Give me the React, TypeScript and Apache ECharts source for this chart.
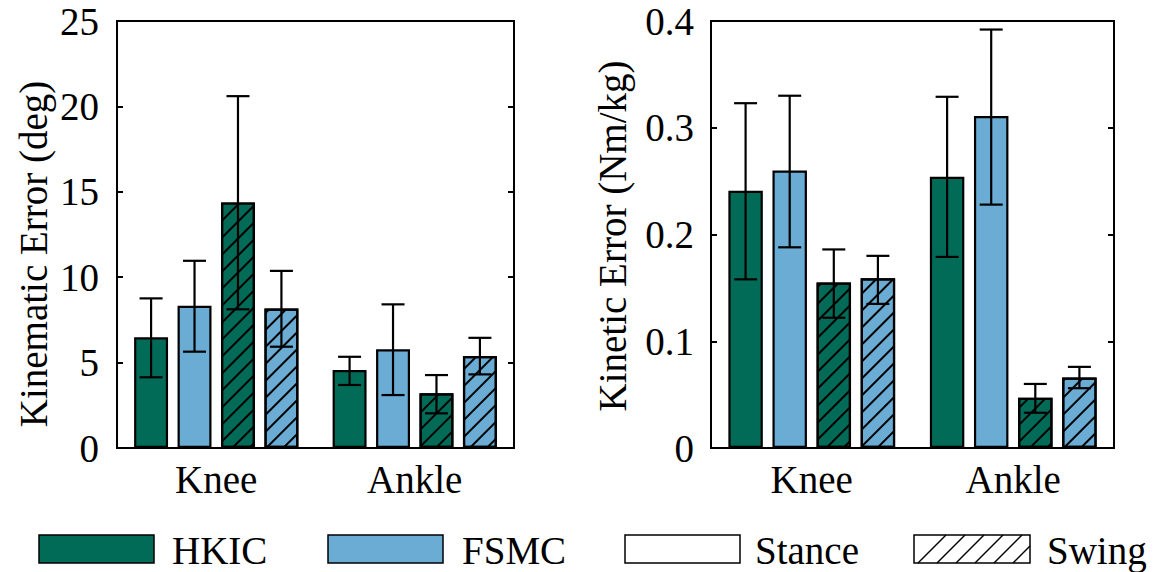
import React, { useEffect, useRef } from "react";
import * as echarts from "echarts";

const categories = ["Knee", "Ankle"];
const seriesNames = ["HKIC Stance", "FSMC Stance", "HKIC Swing", "FSMC Swing"];

// Kinematic error (deg)
const kinHKICStance = [6.48, 4.56];
const kinFSMCStance = [8.33, 5.78];
const kinHKICSwing = [14.38, 3.2];
const kinFSMCSwing = [8.17, 5.38];
const kinLow = [[4.14, 3.69], [5.64, 3.1], [8.12, 2.03], [5.93, 4.31]];
const kinHigh = [[8.76, 5.34], [10.96, 8.41], [20.6, 4.27], [10.37, 6.45]];

// Kinetic error (Nm/kg)
const ktHKICStance = [0.241, 0.254];
const ktFSMCStance = [0.26, 0.311];
const ktHKICSwing = [0.155, 0.047];
const ktFSMCSwing = [0.159, 0.066];
const ktLow = [[0.158, 0.179], [0.188, 0.228], [0.122, 0.033], [0.135, 0.056]];
const ktHigh = [[0.323, 0.329], [0.33, 0.392], [0.186, 0.06], [0.18, 0.076]];

const kinTicks = { min: 0, max: 25, interval: 5 };
const ktTicks = { min: 0, max: 0.4, interval: 0.1 };

const legendItems = ["HKIC", "FSMC", "Stance", "Swing"];

const GREEN = "#016B57";
const BLUE = "#6AACD4";
const FONT = "Liberation Serif, Times New Roman, serif";
const FS = 39;
const BAR_W = 0.171;
const BAR_GAP = 0.28;

const hatch = {
  color: "#000",
  dashArrayX: [1, 0],
  dashArrayY: [2, 10],
  symbolSize: 1,
  rotation: -Math.PI / 4,
};

function barSeries(gridIdx: number, data: number[][]) {
  const colors = [GREEN, BLUE, GREEN, BLUE];
  return data.map((d, i) => ({
    type: "bar",
    name: seriesNames[i],
    xAxisIndex: gridIdx,
    yAxisIndex: gridIdx * 2,
    data: d,
    barWidth: BAR_W * 100 + "%",
    barGap: BAR_GAP * 100 + "%",
    itemStyle: {
      color: colors[i],
      borderColor: "#000",
      borderWidth: 2.2,
      decal: i >= 2 ? hatch : undefined,
    },
    z: 2,
  }));
}

function errSeries(gridIdx: number, lows: number[][], highs: number[][]) {
  const data: number[][] = [];
  lows.forEach((arr, s) =>
    arr.forEach((lo, c) => data.push([c, lo, highs[s][c], s]))
  );
  return {
    type: "custom",
    xAxisIndex: gridIdx,
    yAxisIndex: gridIdx * 2,
    z: 5,
    encode: { x: 0, y: [1, 2] },
    data,
    renderItem: (_p: any, api: any) => {
      const c = api.value(0);
      const lo = api.value(1);
      const hi = api.value(2);
      const s = api.value(3);
      const catW = api.size([1, 0])[0];
      const pitch = catW * BAR_W * (1 + BAR_GAP);
      const pLo = api.coord([c, lo]);
      const pHi = api.coord([c, hi]);
      const x = pLo[0] + (s - 1.5) * pitch;
      const cap = 11.5;
      const st = { stroke: "#000", lineWidth: 2.2 };
      return {
        type: "group",
        children: [
          { type: "line", shape: { x1: x, y1: pLo[1], x2: x, y2: pHi[1] }, style: st },
          { type: "line", shape: { x1: x - cap, y1: pLo[1], x2: x + cap, y2: pLo[1] }, style: st },
          { type: "line", shape: { x1: x - cap, y1: pHi[1], x2: x + cap, y2: pHi[1] }, style: st },
        ],
      };
    },
  };
}

function textStyle(text: string, align: string) {
  return {
    text,
    fontFamily: FONT,
    fontSize: FS,
    fill: "#000",
    textAlign: align,
    textVerticalAlign: "middle",
  };
}

function legendGraphic() {
  const boxes = [
    { x: 39, w: 115, fill: GREEN, tx: 172 },
    { x: 328, w: 115, fill: BLUE, tx: 462 },
    { x: 625, w: 115, fill: "#fff", tx: 755 },
    { x: 914, w: 116, fill: "#fff", tx: 1047 },
  ];
  const y0 = 535;
  const h = 28;
  const els: any[] = [];
  boxes.forEach((b, i) => {
    els.push({
      type: "rect",
      shape: { x: b.x, y: y0, width: b.w, height: h },
      style: { fill: b.fill, stroke: "#000", lineWidth: 1.5 },
    });
    els.push({
      type: "text",
      x: b.tx,
      y: y0 + h / 2 + 1,
      style: textStyle(legendItems[i], "left"),
    });
  });
  // hatch lines inside swing box
  const b = boxes[3];
  const x0 = b.x, x1 = b.x + b.w, y1 = y0 + h;
  for (let k = 0; k < 8; k++) {
    const c = x0 + y1 + 4 + k * 19;
    let ax = c - y1, ay = y1;
    let bx = c - y0, by = y0;
    if (ax < x0) { ay = c - x0; ax = x0; }
    if (bx > x1) { by = c - x1; bx = x1; }
    if (ax >= x1 || bx <= x0) continue;
    els.push({
      type: "line",
      shape: { x1: ax, y1: ay, x2: bx, y2: by },
      style: { stroke: "#000", lineWidth: 1.5 },
    });
  }
  els.push({
    type: "text",
    x: 33,
    y: 254,
    rotation: Math.PI / 2,
    style: textStyle("Kinematic Error (deg)", "center"),
  });
  els.push({
    type: "text",
    x: 612,
    y: 236,
    rotation: Math.PI / 2,
    style: textStyle("Kinetic Error (Nm/kg)", "center"),
  });
  return els;
}

function yAxes(gridIdx: number, t: { min: number; max: number; interval: number }, margin: number) {
  const tick = { show: true, inside: true, length: 6, lineStyle: { color: "#000", width: 2 } };
  return [
    {
      type: "value",
      gridIndex: gridIdx,
      position: "left",
      min: t.min,
      max: t.max,
      interval: t.interval,
      splitLine: { show: false },
      axisLine: { show: true, lineStyle: { color: "#000", width: 2 } },
      axisTick: tick,
      axisLabel: { fontFamily: FONT, fontSize: FS, color: "#000", margin },
    },
    {
      type: "value",
      gridIndex: gridIdx,
      position: "right",
      min: t.min,
      max: t.max,
      interval: t.interval,
      splitLine: { show: false },
      axisLine: { show: true, lineStyle: { color: "#000", width: 2 } },
      axisTick: tick,
      axisLabel: { show: false },
    },
  ];
}

function xAxis(gridIdx: number) {
  return {
    type: "category",
    gridIndex: gridIdx,
    data: categories,
    axisLine: { show: true, lineStyle: { color: "#000", width: 2 } },
    axisTick: { show: false },
    axisLabel: { fontFamily: FONT, fontSize: FS, color: "#000", margin: 12 },
  };
}

export default function App() {
  const ref = useRef<HTMLDivElement>(null);
  useEffect(() => {
    if (!ref.current) return;
    const chart = echarts.init(ref.current, undefined, { renderer: "svg" });
    chart.setOption({
      animation: false,
      backgroundColor: "#fff",
      grid: [
        { left: 117, top: 21, width: 397, height: 427, show: true, borderColor: "#000", borderWidth: 2, backgroundColor: "transparent" },
        { left: 711, top: 21, width: 403, height: 427, show: true, borderColor: "#000", borderWidth: 2, backgroundColor: "transparent" },
      ],
      xAxis: [xAxis(0), xAxis(1)],
      yAxis: [...yAxes(0, kinTicks, 18), ...yAxes(1, ktTicks, 17)],
      series: [
        ...barSeries(0, [kinHKICStance, kinFSMCStance, kinHKICSwing, kinFSMCSwing]),
        errSeries(0, kinLow, kinHigh),
        ...barSeries(1, [ktHKICStance, ktFSMCStance, ktHKICSwing, ktFSMCSwing]),
        errSeries(1, ktLow, ktHigh),
      ],
      graphic: legendGraphic(),
    });
    return () => chart.dispose();
  }, []);
  return (
    <div
      ref={ref}
      style={{ width: 1166, height: 572, position: "absolute", left: 0, top: 0, background: "#fff" }}
    />
  );
}
